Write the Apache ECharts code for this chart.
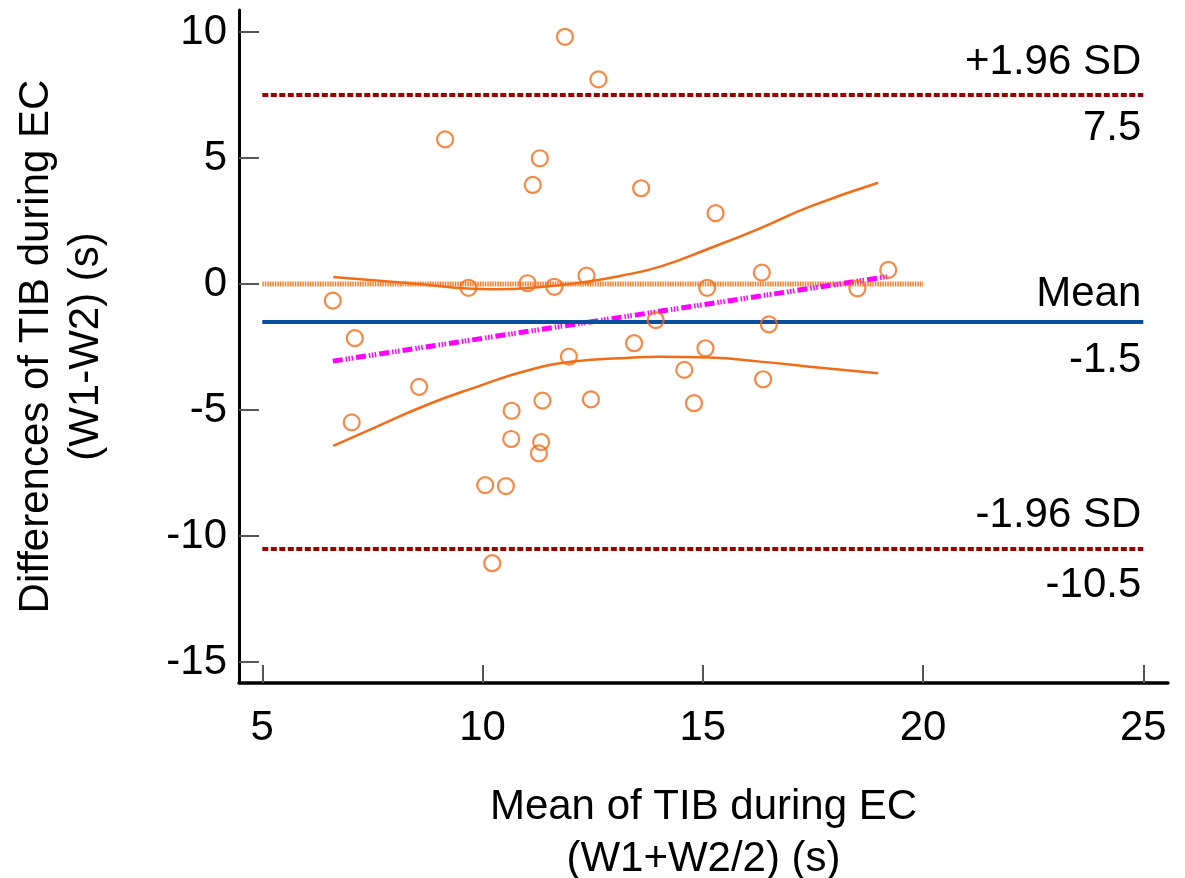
<!DOCTYPE html>
<html>
<head>
<meta charset="utf-8">
<script src="https://cdn.jsdelivr.net/npm/echarts@6/dist/echarts.min.js"></script>
<style>html,body{margin:0;padding:0;background:#fff}#c{width:1185px;height:878px}</style>
</head>
<body>
<div id="c"></div>
<script>
// Scatter points: mean of the two measurements (x) and their difference (y)
const pointMeans = [11.87,12.63,9.15,11.30,11.14,6.60,9.68,11.02,11.63,12.36,7.10,8.56,7.03,10.66,11.36,12.46,11.96,10.65,11.33,11.28,10.06,10.53,10.22,13.60,15.29,16.34,19.21,15.10,18.51,13.93,16.50,13.44,15.06,14.58,16.37,14.80];
const pointDiffs = [9.81,8.12,5.74,4.99,3.93,-0.66,-0.15,0.03,-0.11,0.33,-2.15,-4.08,-5.49,-5.03,-4.63,-4.58,-2.88,-6.15,-6.27,-6.72,-7.98,-8.02,-11.08,3.80,2.81,0.45,0.56,-0.15,-0.17,-1.43,-1.60,-2.35,-2.55,-3.41,-3.78,-4.73];

// Regression line of differences on means
const regX = [6.60, 19.18];
const regY = [-3.06, 0.29];

// Confidence curves around the regression line
const ciX = [6.61, 8.35, 10.24, 11.38, 12.36, 13.12, 14.03, 15.16, 16.30, 17.43, 18.98];
const ciUpperY = [0.28, 0.03, -0.21, -0.11, 0.09, 0.32, 0.69, 1.42, 2.21, 3.07, 4.02];
const ciLowX = [6.61, 7.60, 8.73, 9.87, 11.00, 12.14, 13.12, 14.03, 15.16, 16.30, 17.43, 18.98];
const ciLowY = [-6.42, -5.66, -4.80, -4.08, -3.44, -3.06, -2.95, -2.89, -2.92, -3.08, -3.28, -3.54];

// Line of equality (zero difference)
const zeroX = [5, 20];
const zeroY = [0, 0];

// Mean difference and limits of agreement
const meanDiff = -1.5;
const upperLoA = 7.5;
const lowerLoA = -10.5;
const refStartX = 5, refEndX = 25;

// Tick labels
const xTicks = [5, 10, 15, 20, 25];
const yTicks = [-15, -10, -5, 0, 5, 10];

const FONT = "'Liberation Sans', Arial, sans-serif";
const ORANGE = '#f26c17';

const zip = (a, b) => a.map((v, i) => [v, b[i]]);

function refLine(y, topText, bottomText, color, type, gapTop, gapBottom) {
  return [
    [
      { coord: [refStartX, y], lineStyle: { color: color, width: 4, type: type },
        label: { show: true, position: 'insideEndTop', formatter: topText, distance: [2, gapTop] } },
      { coord: [refEndX, y] }
    ],
    [
      { coord: [refStartX, y], lineStyle: { color: 'rgba(255,255,255,0)', width: 0.01 },
        label: { show: true, position: 'insideEndBottom', formatter: bottomText, distance: [2, gapBottom] } },
      { coord: [refEndX, y] }
    ]
  ];
}

const chart = echarts.init(document.getElementById('c'), null, { renderer: 'canvas' });
chart.setOption({
  animation: false,
  backgroundColor: '#fff',
  textStyle: { fontFamily: FONT },
  grid: { left: 239, right: 17, top: 10, bottom: 195, containLabel: false, outerBoundsMode: 'none' },
  xAxis: {
    type: 'value', min: 4.471, max: 25.561,
    name: 'Mean of TIB during EC\n(W1+W2/2) (s)',
    nameLocation: 'middle', nameGap: 98,
    nameTextStyle: { fontSize: 42, color: '#000', fontFamily: FONT, lineHeight: 52 },
    axisLine: { show: true, onZero: false, lineStyle: { color: '#000', width: 3.5 } },
    axisTick: { show: true, inside: true, length: 18, customValues: xTicks, lineStyle: { color: '#555', width: 2 } },
    axisLabel: { customValues: xTicks, fontSize: 42, color: '#000', margin: 24, fontFamily: FONT },
    splitLine: { show: false }
  },
  yAxis: {
    type: 'value', min: -15.833, max: 10.873,
    name: 'Differences of TIB during EC\n(W1-W2) (s)',
    nameLocation: 'middle', nameGap: 128, nameRotate: 90,
    nameTextStyle: { fontSize: 42, color: '#000', fontFamily: FONT, lineHeight: 50 },
    axisLine: { show: true, onZero: false, lineStyle: { color: '#000', width: 3 } },
    axisTick: { show: true, inside: true, length: 20, customValues: yTicks, lineStyle: { color: '#555', width: 2 } },
    axisLabel: { customValues: yTicks, fontSize: 42, color: '#000', margin: 12, fontFamily: FONT },
    splitLine: { show: false }
  },
  series: [
    {
      type: 'line', name: 'zero', data: zip(zeroX, zeroY), symbol: 'none', z: 1,
      lineStyle: { color: '#ee8030', width: 5, type: [1.5, 1] }
    },
    {
      type: 'line', name: 'ciUpper', data: zip(ciX, ciUpperY), symbol: 'none', smooth: 0.5, z: 2,
      lineStyle: { color: ORANGE, width: 2.5 }
    },
    {
      type: 'line', name: 'ciLower', data: zip(ciLowX, ciLowY), symbol: 'none', smooth: 0.5, z: 2,
      lineStyle: { color: ORANGE, width: 2.5 }
    },
    {
      type: 'line', name: 'regression', data: zip(regX, regY), symbol: 'none', z: 3,
      lineStyle: { color: '#ff00ff', width: 5, type: [10, 3, 1.5, 1.5, 1.5, 1.5, 1.5, 3] }
    },
    {
      type: 'scatter', name: 'points', data: zip(pointMeans, pointDiffs), z: 5,
      symbol: 'circle', symbolSize: 16,
      itemStyle: { color: 'rgba(255,255,255,0)', borderColor: ORANGE, borderWidth: 2.2 },
      markLine: {
        silent: true, symbol: ['none', 'none'], animation: false,
        label: { fontSize: 42, color: '#000', fontFamily: FONT },
        emphasis: { disabled: true },
        data: [].concat(
          refLine(upperLoA, '+1.96 SD', String(upperLoA), '#9b0000', [6, 2.5], 12, 12),
          refLine(meanDiff, 'Mean', String(meanDiff), '#0a4f9e', 'solid', 6, 18),
          refLine(lowerLoA, '-1.96 SD', String(lowerLoA), '#9b0000', [6, 2.5], 12, 16)
        )
      }
    }
  ]
});
</script>
</body>
</html>
